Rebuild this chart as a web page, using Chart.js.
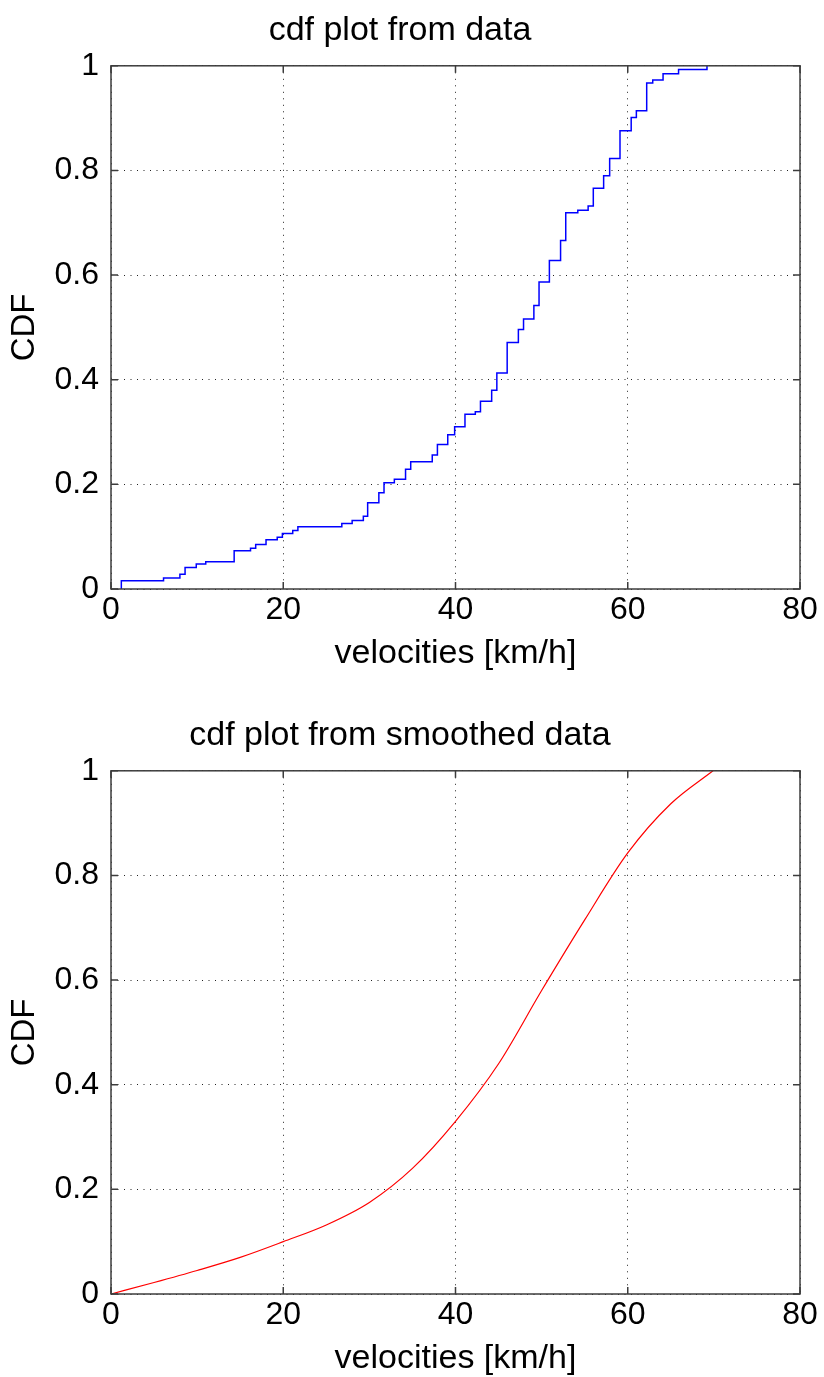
<!DOCTYPE html>
<html>
<head>
<meta charset="utf-8">
<script src="https://cdn.jsdelivr.net/npm/chart.js@4.4.1/dist/chart.umd.min.js"></script>
<style>
  html, body { margin: 0; padding: 0; background: #fff; overflow: hidden; }
  #wrap { position: relative; width: 824px; height: 1377px; overflow: hidden; }
  canvas { position: absolute; left: 0; }
</style>
</head>
<body>
<div id="wrap">
  <canvas id="top" width="824" height="688" style="top:0"></canvas>
  <canvas id="bottom" width="824" height="688" style="top:705px"></canvas>
</div>
<script>
// empirical cdf: velocity where each step happens, and the cdf value after it
const stepVel = [1.2, 1.2, 6.1, 8.0, 8.6, 9.9, 11.0, 14.3, 16.2, 16.8,
  18.0, 19.3, 19.9, 21.1, 21.7, 26.8, 28.0, 29.3, 29.8, 31.1,
  31.7, 32.9, 34.2, 34.8, 37.3, 37.9, 39.1, 39.9, 41.1, 42.3,
  42.9, 44.2, 44.8, 46.0, 47.3, 47.9, 49.1, 49.7, 50.9, 52.2,
  52.8, 54.2, 55.4, 56.0, 57.2, 57.9, 59.1, 60.4, 61.0, 62.2,
  62.9, 64.1, 65.9, 69.2];
const stepCdf = [0, 0.016, 0.021, 0.028, 0.041, 0.048, 0.052, 0.073, 0.078, 0.085,
  0.094, 0.099, 0.106, 0.112, 0.119, 0.125, 0.131, 0.139, 0.165, 0.184,
  0.203, 0.210, 0.229, 0.243, 0.256, 0.276, 0.295, 0.310, 0.334, 0.339,
  0.359, 0.380, 0.413, 0.471, 0.496, 0.516, 0.542, 0.587, 0.628, 0.666,
  0.719, 0.724, 0.732, 0.766, 0.790, 0.823, 0.876, 0.901, 0.914, 0.967,
  0.973, 0.985, 0.993, 1.0];

// smoothed cdf, every 5 km/h
const smoothVel = [0, 5, 10, 15, 20, 25, 30, 35, 40, 45, 50, 55, 60, 65, 69.9];
const smoothCdf = [0, 0.022, 0.045, 0.070, 0.100, 0.132, 0.175, 0.240, 0.330,
  0.440, 0.580, 0.715, 0.843, 0.937, 1.0];

const xTicks = [0, 20, 40, 60, 80];
const yTicks = [0, 0.2, 0.4, 0.6, 0.8, 1];

const FONT = '"Liberation Sans", Arial, Helvetica, sans-serif';

// matlab style box with inward ticks
const boxPlugin = {
    id: 'box',
    afterDraw(chart) {
        const ctx = chart.ctx;
        const a = chart.chartArea;
        const xs = chart.scales.x, ys = chart.scales.y;
        ctx.save();
        ctx.strokeStyle = '#3c3c3c';
        ctx.lineWidth = 1.5;
        ctx.strokeRect(a.left, a.top, a.right - a.left, a.bottom - a.top);
        ctx.beginPath();
        xTicks.forEach(v => {
            const px = xs.getPixelForValue(v);
            ctx.moveTo(px, a.bottom); ctx.lineTo(px, a.bottom - 7);
            ctx.moveTo(px, a.top); ctx.lineTo(px, a.top + 7);
        });
        yTicks.forEach(v => {
            const py = ys.getPixelForValue(v);
            ctx.moveTo(a.left, py); ctx.lineTo(a.left + 7, py);
            ctx.moveTo(a.right, py); ctx.lineTo(a.right - 7, py);
        });
        ctx.stroke();
        ctx.restore();
    }
};

function makeChart(id, title, data, color, stepped) {
    const ctx = document.getElementById(id).getContext('2d');
    return new Chart(ctx, {
        type: 'scatter',
        data: {
            datasets: [{
                data: data,
                showLine: true,
                stepped: stepped ? 'before' : false,
                cubicInterpolationMode: stepped ? 'default' : 'monotone',
                borderColor: color,
                borderWidth: stepped ? 1.5 : 1.2,
                pointRadius: 0
            }]
        },
        options: {
            responsive: false,
            animation: false,
            devicePixelRatio: 1,
            layout: { padding: { left: 0, right: 24, top: 0, bottom: 0 } },
            plugins: {
                legend: { display: false },
                tooltip: { enabled: false },
                title: {
                    display: true,
                    text: title,
                    color: '#000',
                    font: { family: FONT, size: 34, weight: 'normal', lineHeight: 1.2 },
                    padding: { top: 10, bottom: 15 }
                }
            },
            scales: {
                x: {
                    type: 'linear',
                    min: 0, max: 80,
                    afterFit: s => { s.height = 99; },
                    afterBuildTicks: s => { s.ticks = xTicks.map(v => ({ value: v })); },
                    ticks: {
                        color: '#000',
                        font: { family: FONT, size: 32 },
                        padding: 2,
                        maxRotation: 0
                    },
                    grid: {
                        color: '#222',
                        lineWidth: 1,
                        tickLength: 0
                    },
                    border: { display: false, dash: [1, 5.5] },
                    title: {
                        display: true,
                        text: 'velocities [km/h]',
                        color: '#000',
                        font: { family: FONT, size: 34, lineHeight: 1.2 },
                        padding: { top: 0, bottom: 14 }
                    }
                },
                y: {
                    type: 'linear',
                    min: 0, max: 1,
                    afterFit: s => { s.width = 111; },
                    afterBuildTicks: s => { s.ticks = yTicks.map(v => ({ value: v })); },
                    ticks: {
                        color: '#000',
                        font: { family: FONT, size: 32 },
                        padding: 12,
                        callback: v => (v === 0 || v === 1) ? String(v) : v.toFixed(1)
                    },
                    grid: {
                        color: '#222',
                        lineWidth: 1,
                        tickLength: 0
                    },
                    border: { display: false, dash: [1, 5.5] },
                    title: {
                        display: true,
                        text: 'CDF',
                        color: '#000',
                        font: { family: FONT, size: 33, lineHeight: 1.2 },
                        padding: { top: 5, bottom: 0 }
                    }
                }
            }
        },
        plugins: [boxPlugin]
    });
}

const stepPoints = stepVel.map((v, i) => ({ x: v, y: stepCdf[i] }));
const smoothPoints = smoothVel.map((v, i) => ({ x: v, y: smoothCdf[i] }));

makeChart('top', 'cdf plot from data', stepPoints, '#0000ff', true);
makeChart('bottom', 'cdf plot from smoothed data', smoothPoints, '#ff0000', false);
</script>
</body>
</html>
